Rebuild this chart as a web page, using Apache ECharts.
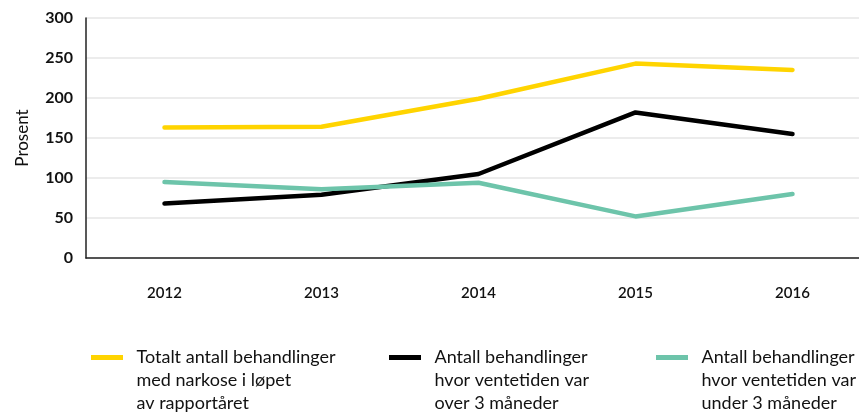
<!DOCTYPE html>
<html>
<head>
<meta charset="utf-8">
<script src="https://cdn.jsdelivr.net/npm/echarts@6/dist/echarts.min.js"></script>
<style>
  html, body { margin: 0; padding: 0; background: #fff; }
  #chart { width: 859px; height: 414px; }
</style>
</head>
<body>
<div id="chart"></div>
<script>
var years = ['2012', '2013', '2014', '2015', '2016'];
var totalt = [163, 164, 199, 243, 235];
var over3 = [68, 79, 105, 182, 155];
var under3 = [95, 86, 94, 52, 80];
var yTicks = [0, 50, 100, 150, 200, 250, 300];

var names = [
  'Totalt antall behandlinger\nmed narkose i løpet\nav rapportåret',
  'Antall behandlinger\nhvor ventetiden var\nover 3 måneder',
  'Antall behandlinger\nhvor ventetiden var\nunder 3 måneder'
];
var colors = ['#FFD400', '#000000', '#6DC4AA'];
var values = [totalt, over3, under3];

var font = 'Lato, "Noto Sans", sans-serif';
// icon with empty space below so it lines up with the first text line
var icon = 'path://M0,0h32v5h-32z M0,51h32v0h-32z';

var chart = echarts.init(document.getElementById('chart'));

var legendLeft = [91, 389, 656];
var legends = names.map(function (n, i) {
  return {
    data: [n],
    left: legendLeft[i],
    top: 346,
    padding: 0,
    icon: icon,
    itemWidth: 33,
    itemHeight: 51,
    itemGap: 0,
    selectedMode: false,
    textStyle: { fontFamily: font, fontSize: 18, color: '#111', lineHeight: 23, padding: [0, 0, 0, 8] }
  };
});

chart.setOption({
  animation: false,
  color: colors,
  textStyle: { fontFamily: font },
  grid: { left: 86, top: 18, height: 240, width: 785, outerBoundsMode: 'none', containLabel: false },
  legend: legends,
  xAxis: {
    type: 'category',
    data: years,
    boundaryGap: true,
    axisLine: { lineStyle: { color: '#222', width: 1.5 } },
    axisTick: { inside: true, length: 5, lineStyle: { color: '#222' } },
    axisLabel: { margin: 28, fontSize: 15, fontWeight: 600, color: '#111', fontFamily: font },
    splitLine: { show: false }
  },
  yAxis: {
    type: 'value',
    min: yTicks[0],
    max: yTicks[yTicks.length - 1],
    interval: 50,
    name: 'Prosent',
    nameLocation: 'middle',
    nameRotate: 90,
    nameGap: 55,
    nameTextStyle: { fontSize: 17, color: '#111', fontFamily: font },
    axisLine: { show: true, lineStyle: { color: '#222', width: 1.5 } },
    axisTick: { show: false },
    axisLabel: { margin: 13, fontSize: 16, fontWeight: 700, color: '#111', fontFamily: font },
    splitLine: { lineStyle: { color: '#e6e6e6', width: 1.5 } }
  },
  series: names.map(function (n, i) {
    return {
      name: n,
      type: 'line',
      data: values[i],
      symbol: 'none',
      lineStyle: { width: 4.5, color: colors[i], cap: 'round', join: 'round' }
    };
  })
});
</script>
</body>
</html>
